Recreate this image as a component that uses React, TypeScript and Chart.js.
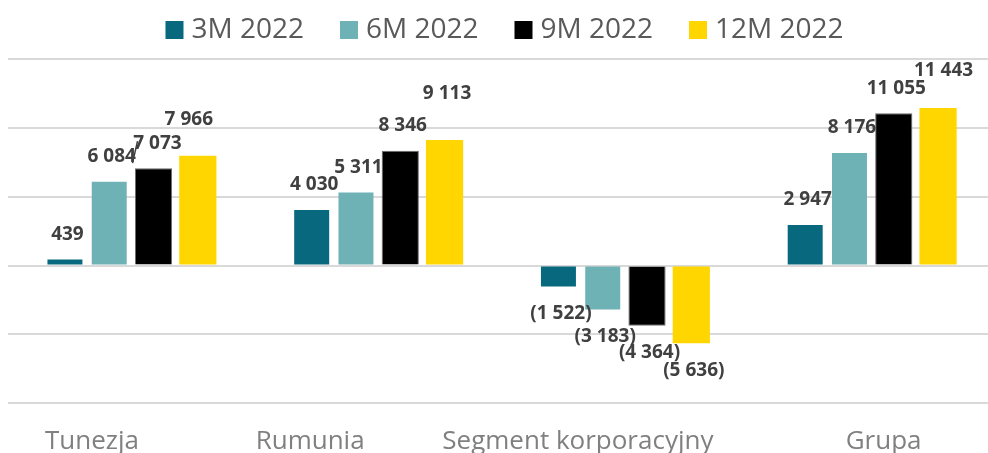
import React, { useEffect, useRef } from "react";
import { Chart, registerables } from "chart.js";

Chart.register(...registerables);

const categories = ["Tunezja", "Rumunia", "Segment korporacyjny", "Grupa"];
const seriesNames = ["3M 2022", "6M 2022", "9M 2022", "12M 2022"];
const values3M = [439, 4030, -1522, 2947];
const values6M = [6084, 5311, -3183, 8176];
const values9M = [7073, 8346, -4364, 11055];
const values12M = [7966, 9113, -5636, 11443];
const yMin = -10000;
const yMax = 15000;
const yStep = 5000;

const colors = ["#07687e", "#6fb2b6", "#000000", "#ffd600"];

// label placement tweaks (dataset index -> category index -> [dx, dy])
const labelTweaks: Record<string, [number, number]> = {
  "2-0": [1.5, 0],
  "3-0": [-11.5, -11],
  "3-1": [0, -21.5],
  "3-3": [3, -12.5],
};
const leaderLines = ["2-0"];
const xLabelShift = [-39.4, -68, -47, 12];

function fmt(v: number): string {
  const s = Math.round(Math.abs(v))
    .toString()
    .replace(/\B(?=(\d{3})+(?!\d))/g, " ");
  return v < 0 ? `(${s})` : s;
}

const valueLabelPlugin = {
  id: "valueLabels",
  afterDatasetsDraw(chart: any) {
    const ctx = chart.ctx;
    ctx.save();
    ctx.font = "bold 19px 'Open Sans'";
    ctx.fillStyle = "#404040";
    ctx.strokeStyle = "#404040";
    ctx.lineWidth = 1.5;
    ctx.textAlign = "center";
    ctx.textBaseline = "middle";
    chart.data.datasets.forEach((ds: any, di: number) => {
      const meta = chart.getDatasetMeta(di);
      meta.data.forEach((bar: any, i: number) => {
        const v = ds.data[i] as number;
        const key = `${di}-${i}`;
        const tw = labelTweaks[key] || [0, 0];
        const x = bar.x + 2.5 + tw[0];
        const y = v >= 0 ? bar.y - 25 + tw[1] : bar.y + 27 + tw[1];
        ctx.fillText(fmt(v), x, y);
        if (leaderLines.includes(key)) {
          ctx.beginPath();
          ctx.moveTo(x - 20, y - 2);
          ctx.lineTo(x - 25, y + 20);
          ctx.stroke();
        }
      });
    });
    ctx.restore();
  },
};

const axisLabelPlugin = {
  id: "axisLabels",
  afterDraw(chart: any) {
    const ctx = chart.ctx;
    const xs = chart.scales.x;
    ctx.save();
    ctx.font = "26px 'Open Sans'";
    ctx.fillStyle = "#808080";
    ctx.textAlign = "center";
    ctx.textBaseline = "alphabetic";
    categories.forEach((c, i) => {
      ctx.fillText(c, xs.getPixelForValue(i) + xLabelShift[i], 449);
    });
    ctx.restore();
  },
};

const legendPlugin = {
  id: "customLegend",
  afterDraw(chart: any) {
    const ctx = chart.ctx;
    ctx.save();
    ctx.font = "28px 'Open Sans'";
    ctx.textBaseline = "alphabetic";
    ctx.textAlign = "left";
    const box = 18;
    const gapBox = 8;
    const gapItem = 36;
    const widths = seriesNames.map((n) => box + gapBox + ctx.measureText(n).width);
    const total = widths.reduce((a, b) => a + b, 0) + gapItem * (widths.length - 1);
    const ca = chart.chartArea;
    let x = (ca.left + ca.right) / 2 - total / 2 + 3;
    seriesNames.forEach((n, i) => {
      ctx.fillStyle = colors[i];
      ctx.fillRect(x, 21, box, box);
      ctx.fillStyle = "#595959";
      ctx.fillText(n, x + box + gapBox, 38);
      x += widths[i] + gapItem;
    });
    ctx.restore();
  },
};

export default function App() {
  const ref = useRef<HTMLCanvasElement>(null);
  useEffect(() => {
    if (!ref.current) return;
    const series = [values3M, values6M, values9M, values12M];
    const chart = new Chart(ref.current, {
      type: "bar",
      data: {
        labels: categories,
        datasets: series.map((d, i) => ({
          label: seriesNames[i],
          data: d,
          backgroundColor: colors[i],
          borderColor: i === 2 ? "#6b6b6b" : colors[i],
          borderWidth: i === 2 ? 1 : 0,
          barPercentage: i < 2 ? 0.79 : 0.84,
          categoryPercentage: 0.718,
        })),
      },
      options: {
        animation: false,
        responsive: false,
        maintainAspectRatio: false,
        layout: { padding: { left: 8, right: 5, top: 59, bottom: 49.7 } },
        plugins: { legend: { display: false }, tooltip: { enabled: false } },
        scales: {
          x: { display: false },
          y: {
            min: yMin,
            max: yMax,
            ticks: { display: false, stepSize: yStep },
            grid: { color: "#d9d9d9", lineWidth: 2, drawTicks: false },
            border: { display: false },
          },
        },
      },
      plugins: [valueLabelPlugin, axisLabelPlugin, legendPlugin],
    });
    return () => chart.destroy();
  }, []);
  return (
    <div
      style={{
        position: "fixed",
        left: 0,
        top: 0,
        width: 988,
        height: 453,
        overflow: "hidden",
        background: "#fff",
      }}
    >
      <canvas ref={ref} width={1000} height={453} style={{ display: "block" }} />
    </div>
  );
}
